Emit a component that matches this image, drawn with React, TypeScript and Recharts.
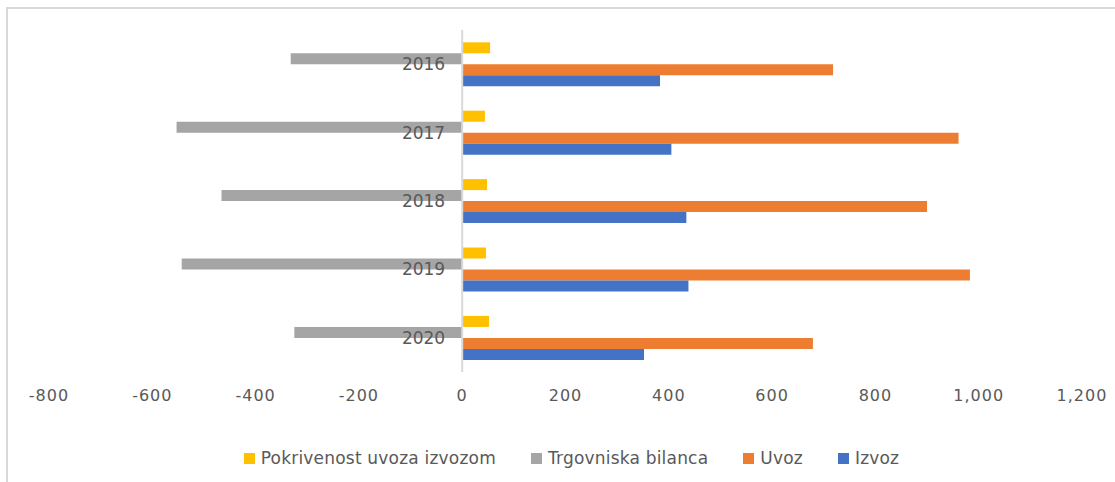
import React from 'react';
import { BarChart, Bar, XAxis, YAxis, Legend, ReferenceLine, LabelList } from 'recharts';

const years = ['2016', '2017', '2018', '2019', '2020'];
const pokrivenost = [54, 44, 48, 46, 52];
const bilanca = [-332, -553, -466, -543, -325];
const uvoz = [718, 961, 900, 983, 679];
const izvoz = [383, 405, 434, 438, 352];
const xTicks = [-800, -600, -400, -200, 0, 200, 400, 600, 800, 1000, 1200];

const series = [
  { key: 'pokrivenost', name: 'Pokrivenost uvoza izvozom', color: '#FFC000' },
  { key: 'bilanca', name: 'Trgovniska bilanca', color: '#A5A5A5' },
  { key: 'uvoz', name: 'Uvoz', color: '#ED7D31' },
  { key: 'izvoz', name: 'Izvoz', color: '#4472C4' },
];

const data = years.map((year, i) => ({
  year,
  pokrivenost: pokrivenost[i],
  bilanca: bilanca[i],
  uvoz: uvoz[i],
  izvoz: izvoz[i],
}));

const W = 1115;
const H = 482;
const margin = { top: 30, right: 33, bottom: 0, left: 49 };
const domain: [number, number] = [-800, 1200];
const FONT = '"DejaVu Sans", sans-serif';
const TEXT = '#595959';

// year labels go next to the zero line and over the grey bars, as in Excel.
// They hang off the "Uvoz" bar: its top edge is the middle of the category.
const YearLabel = (props: any) => {
  const { x, y, value } = props;
  return (
    <text x={x - 17} y={y} dy="0.35em" textAnchor="end" fill={TEXT} fontSize={17} fontFamily={FONT}>
      {value}
    </text>
  );
};

const LegendContent = () => (
  <div
    style={{
      height: 60,
      display: 'flex',
      justifyContent: 'center',
      alignItems: 'flex-start',
      paddingTop: 27,
      paddingLeft: 12,
      boxSizing: 'border-box',
      fontFamily: FONT,
      fontSize: 17,
      letterSpacing: 0.2,
      color: TEXT,
      lineHeight: '18px',
    }}
  >
    {series.map((s, i) => (
      <div key={s.key} style={{ display: 'flex', alignItems: 'center', marginRight: i < series.length - 1 ? 35 : 0 }}>
        <span style={{ width: 11, height: 11, background: s.color, display: 'inline-block', marginRight: 6 }} />
        <span>{s.name}</span>
      </div>
    ))}
  </div>
);

export default function App() {
  return (
    <div style={{ position: 'absolute', left: 0, top: 0, width: W, height: H, background: '#fff' }}>
      <div
        style={{
          position: 'absolute',
          left: 6,
          top: 7,
          width: W,
          height: H,
          borderTop: '2px solid #D9D9D9',
          borderLeft: '2px solid #D9D9D9',
        }}
      />
      <div style={{ position: 'absolute', left: 0, top: 0 }}>
        <BarChart
          width={W}
          height={H}
          data={data}
          layout="vertical"
          margin={margin}
          barCategoryGap="18%"
          barGap={0}
        >
          <XAxis
            type="number"
            domain={domain}
            ticks={xTicks}
            interval={0}
            axisLine={false}
            tickLine={false}
            tickMargin={12}
            height={50}
            tick={{ fill: TEXT, fontSize: 16, fontFamily: FONT, letterSpacing: 1 }}
            tickFormatter={(v: number) => v.toLocaleString('en-US')}
          />
          <YAxis type="category" dataKey="year" hide />
          <ReferenceLine x={0} stroke="#D9D9D9" strokeWidth={2} />
          {series.map((s) => (
            <Bar key={s.key} dataKey={s.key} name={s.name} fill={s.color} isAnimationActive={false}>
              {s.key === 'uvoz' && <LabelList dataKey="year" content={<YearLabel />} />}
            </Bar>
          ))}
          <Legend verticalAlign="bottom" height={60} content={<LegendContent />} />
        </BarChart>
      </div>
    </div>
  );
}
